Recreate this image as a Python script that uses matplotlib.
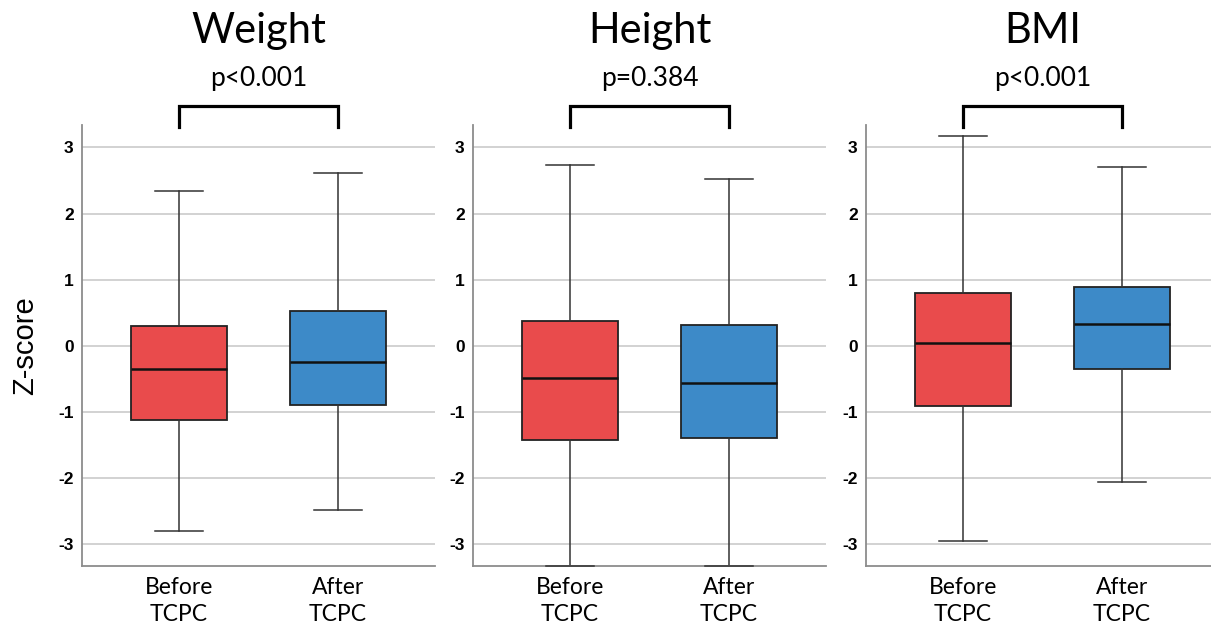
import matplotlib
matplotlib.use("Agg")
import matplotlib.pyplot as plt

# panel titles and p-values
panels = ["Weight", "Height", "BMI"]
p_values = ["p<0.001", "p=0.384", "p<0.001"]
groups = ["Before\nTCPC", "After\nTCPC"]

# box stats per panel: [before, after]
whis_lo = [[-2.81, -2.48], [-3.33, -3.33], [-2.96, -2.06]]
q1 = [[-1.13, -0.90], [-1.42, -1.39], [-0.91, -0.36]]
med = [[-0.35, -0.24], [-0.49, -0.57], [0.04, 0.33]]
q3 = [[0.30, 0.52], [0.37, 0.32], [0.79, 0.89]]
whis_hi = [[2.34, 2.62], [2.74, 2.52], [3.18, 2.70]]

colors = ["#E94B4C", "#3D8AC8"]
yticks = [-3, -2, -1, 0, 1, 2, 3]

fig = plt.figure(figsize=(12.11, 6.24), dpi=100)
lefts = [82, 473, 866]
for i, name in enumerate(panels):
    ax = fig.add_axes([lefts[i] / 1211, 1 - 565.7 / 624, 353 / 1211, (565.7 - 125) / 624])
    stats = []
    for j in range(2):
        stats.append(dict(whislo=whis_lo[i][j], q1=q1[i][j], med=med[i][j],
                          q3=q3[i][j], whishi=whis_hi[i][j], fliers=[]))
    bp = ax.bxp(stats, positions=[1, 2], widths=0.6, patch_artist=True,
                showfliers=False,
                boxprops=dict(edgecolor="#222222", linewidth=1.3),
                medianprops=dict(color="#111111", linewidth=1.8),
                whiskerprops=dict(color="#333333", linewidth=1.1),
                capprops=dict(color="#333333", linewidth=1.1),
                capwidths=0.3)
    for patch, c in zip(bp["boxes"], colors):
        patch.set_facecolor(c)
    for cap in bp["caps"]:
        cap.set_clip_on(False)
        cap.set_zorder(5)

    ax.set_xlim(0.39, 2.61)
    ax.set_ylim(-3.33, 3.34)
    ax.set_yticks(yticks)
    ax.set_yticklabels([str(t) for t in yticks], fontweight="bold",
                       fontsize=12.5, family="Liberation Sans")
    ax.set_xticks([1, 2])
    ax.set_xticklabels(groups, fontsize=16.5, family="Lato", linespacing=1.35)
    ax.tick_params(axis="both", length=0)
    ax.tick_params(axis="y", pad=6)
    ax.tick_params(axis="x", pad=8)
    ax.yaxis.grid(True, color="#cfcfcf", linewidth=1.3)
    ax.set_axisbelow(True)
    for s in ["top", "right"]:
        ax.spines[s].set_visible(False)
    for s in ["left", "bottom"]:
        ax.spines[s].set_color("#8c8c8c")
        ax.spines[s].set_linewidth(1.3)

    # bracket and labels above
    ax.plot([1, 1, 2, 2], [3.31, 3.62, 3.62, 3.31], color="black",
            linewidth=2.3, clip_on=False, solid_joinstyle="miter")
    ax.text(1.5, 4.05, p_values[i], ha="center", va="center",
            fontsize=19, family="Lato")
    ax.text(1.5, 4.76, name, ha="center", va="center",
            fontsize=30, family="Lato")
    if i == 0:
        ax.set_ylabel("Z-score", fontsize=21, family="Liberation Sans", labelpad=14)

fig.savefig("out.png", dpi=100)
